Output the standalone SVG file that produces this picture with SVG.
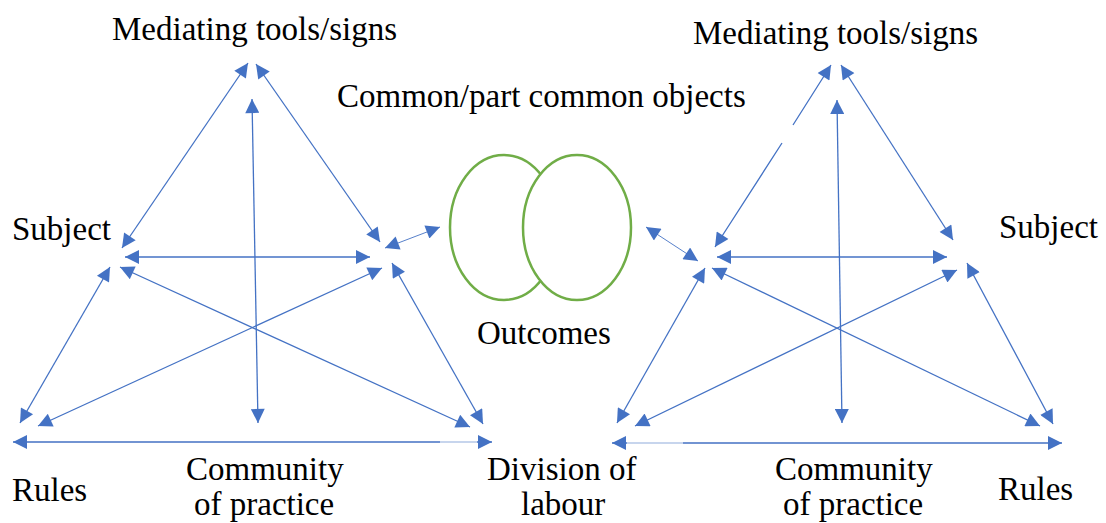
<svg xmlns="http://www.w3.org/2000/svg" width="1106" height="523" viewBox="0 0 1106 523">
  <style>
    text { font-family: 'Liberation Serif', 'Times New Roman', Times, 'DejaVu Serif', serif; font-size: 33px; fill: #000; }
    .conn { stroke: #4472C4; stroke-width: 1.3; fill: none; marker-start: url(#ah); marker-end: url(#ah); }
    .thin { stroke-width: 0.9; }
    .faint { stroke: #B4C7E7; stroke-width: 1.3; fill: none; }
    .obj { fill: #fff; stroke: #70AD47; stroke-width: 2.5; }
  </style>
  <defs>
    <marker id="ah" viewBox="0 0 10 10" refX="10" refY="5" markerUnits="userSpaceOnUse" markerWidth="16" markerHeight="14" orient="auto-start-reverse">
      <path d="M0,0 L10,5 L0,10 Z" fill="#4472C4"/>
    </marker>
  </defs>

  <rect width="1106" height="523" fill="#fff"/>

  <!-- connectors -->
  <g id="connectors">
    <!-- left activity system -->
    <path class="conn" d="M248,63 L122,248"/>
    <path class="conn" d="M256,64 L380,242"/>
    <path class="conn" d="M252,99 L258,423"/>
    <path class="conn" d="M125,257 L370,257"/>
    <path class="conn" d="M110,267 L20,423"/>
    <path class="conn" d="M120,267 L470,427"/>
    <path class="conn" d="M382,268 L38,426"/>
    <path class="conn" d="M392,263 L483,424"/>
    <path class="conn" d="M13,442 L440,442 M477,442 L492,442"/>
    <path class="faint" d="M440,442 L477,442"/>
    <path class="conn thin" d="M385,248 L440,227"/>

    <!-- right activity system -->
    <path class="conn" d="M831,65 L793,125 M782,143 L715,247"/>
    <path class="conn" d="M841,65 L953,240"/>
    <path class="conn" d="M837,100 L842,423"/>
    <path class="conn" d="M717,257 L947,257"/>
    <path class="conn" d="M705,268 L617,423"/>
    <path class="conn" d="M712,268 L1040,426"/>
    <path class="conn" d="M957,270 L635,426"/>
    <path class="conn" d="M967,263 L1053,424"/>
    <path class="conn" d="M612,443 L627,443 M683,443 L1062,443"/>
    <path class="faint" d="M627,443 L683,443"/>
    <path class="conn thin" d="M646,227 L698,261"/>
  </g>

  <!-- shared object -->
  <g id="object-left">
    <ellipse class="obj" cx="504" cy="227.5" rx="54" ry="72.5"/>
  </g>
  <g id="object-right">
    <ellipse class="obj" cx="577" cy="227.5" rx="54" ry="72.5"/>
  </g>
  <g id="object-label">
    <text x="337" y="107">Common/part common objects</text>
  </g>
  <g id="outcomes">
    <text x="477" y="344">Outcomes</text>
  </g>

  <!-- left system nodes -->
  <g id="left-tools">
    <text x="112" y="40">Mediating tools/signs</text>
  </g>
  <g id="left-subject">
    <text x="12" y="240">Subject</text>
  </g>
  <g id="left-rules">
    <text x="12" y="501">Rules</text>
  </g>
  <g id="left-community">
    <text x="186" y="480">Community</text>
    <text x="194" y="515">of practice</text>
  </g>
  <g id="left-division">
    <text x="487" y="480">Division of</text>
    <text x="521" y="515">labour</text>
  </g>

  <!-- right system nodes -->
  <g id="right-tools">
    <text x="693" y="44">Mediating tools/signs</text>
  </g>
  <g id="right-subject">
    <text x="999" y="238">Subject</text>
  </g>
  <g id="right-community">
    <text x="775" y="480">Community</text>
    <text x="783" y="515">of practice</text>
  </g>
  <g id="right-rules">
    <text x="998" y="500">Rules</text>
  </g>
</svg>
